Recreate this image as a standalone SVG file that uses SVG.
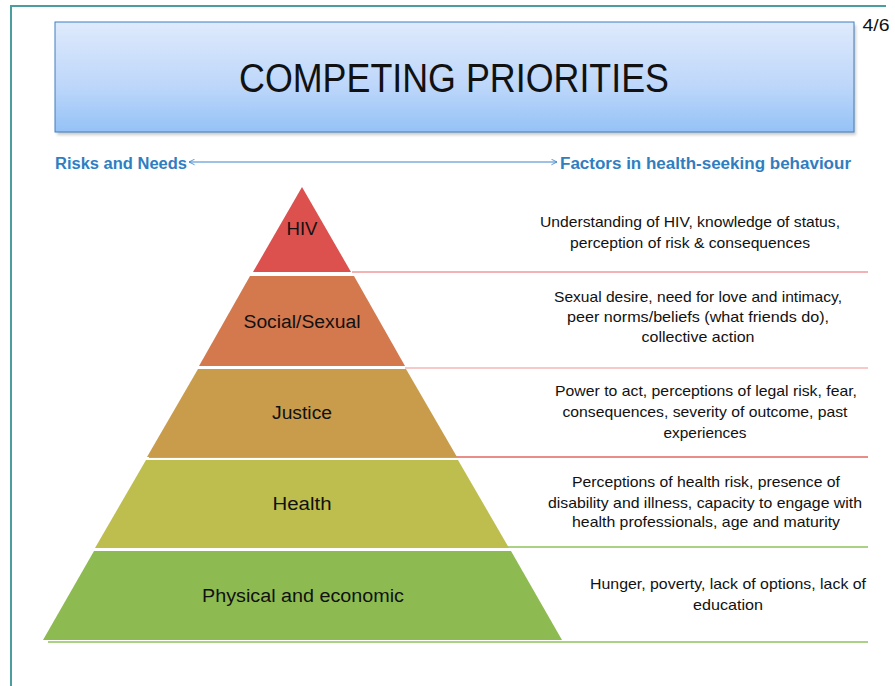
<svg xmlns="http://www.w3.org/2000/svg" width="895" height="686" viewBox="0 0 895 686">
<style>
  .lbl { font-family: "Liberation Sans", Arial, sans-serif; font-size: 18px; fill: #111; text-anchor: middle; }
  .desc { font-family: "Liberation Sans", Arial, sans-serif; font-size: 14.5px; fill: #111; text-anchor: middle; }
  .hdr { font-family: "Liberation Sans", Arial, sans-serif; font-size: 16px; font-weight: bold; fill: #2f7ec1; }
  .div { stroke-width: 1.3; fill: none; }
</style>
<defs>
  <linearGradient id="tg" x1="0" y1="0" x2="0" y2="1">
    <stop offset="0" stop-color="#dfeafc"/>
    <stop offset="0.6" stop-color="#bcd6fa"/>
    <stop offset="1" stop-color="#94c2f6"/>
  </linearGradient>
  <filter id="sh" x="-5%" y="-10%" width="110%" height="130%">
    <feGaussianBlur stdDeviation="1.5"/>
  </filter>
  <marker id="ah" viewBox="0 0 10 10" refX="9" refY="5" markerWidth="7" markerHeight="7" orient="auto-start-reverse" markerUnits="userSpaceOnUse">
    <path d="M1,1 L9,5 L1,9" fill="none" stroke="#3d86cb" stroke-width="1.2"/>
  </marker>
</defs>
<rect width="895" height="686" fill="#fff"/>
<!-- frame -->
<path d="M11,686 V6 H886" fill="none" stroke="#4a9ea0" stroke-width="2"/>
<text x="876" y="31" font-family="Liberation Sans, Arial, sans-serif" font-size="16" fill="#111" text-anchor="middle" textLength="27" lengthAdjust="spacingAndGlyphs">4/6</text>

<g id="title">
  <rect x="57" y="25" width="799" height="110" fill="#999" opacity="0.5" filter="url(#sh)"/>
  <rect x="55" y="22" width="799" height="110" fill="url(#tg)" stroke="#3d7fbf" stroke-width="1"/>
  <text x="454" y="92" font-family="Liberation Sans, Arial, sans-serif" font-size="40" fill="#111" text-anchor="middle" textLength="430" lengthAdjust="spacingAndGlyphs">COMPETING PRIORITIES</text>
</g>

<g id="risks-label"><text class="hdr" x="55" y="169" textLength="132" lengthAdjust="spacingAndGlyphs">Risks and Needs</text></g>
<g id="factors-label"><text class="hdr" x="560" y="169" textLength="291" lengthAdjust="spacingAndGlyphs">Factors in health-seeking behaviour</text></g>

<g id="connectors">
  <line x1="189" y1="162" x2="557" y2="162" stroke="#3d86cb" stroke-width="1.2" marker-start="url(#ah)" marker-end="url(#ah)"/>
  <path class="div" d="M352,272 H868" stroke="#ef9a9a"/>
  <path class="div" d="M405,368 H868" stroke="#f5b9b9"/>
  <path class="div" d="M149,457 H868" stroke="#e0675f"/>
  <path class="div" d="M107,547 H868" stroke="#8fc25c"/>
  <path class="div" d="M48,642 H868" stroke="#8fc25c"/>
</g>

<g id="hiv">
  <polygon points="302,187 351,272 253,272" fill="#dc504e"/>
  <text class="lbl" x="302" y="235" textLength="31" lengthAdjust="spacingAndGlyphs">HIV</text>
  <text class="desc" x="690" y="227" textLength="300" lengthAdjust="spacingAndGlyphs">Understanding of HIV, knowledge of status,</text>
  <text class="desc" x="690" y="248" textLength="240" lengthAdjust="spacingAndGlyphs">perception of risk &amp; consequences</text>
</g>

<g id="social">
  <polygon points="250,276 354,276 405,366 199,366" fill="#d4784e"/>
  <text class="lbl" x="302" y="328" textLength="117" lengthAdjust="spacingAndGlyphs">Social/Sexual</text>
  <text class="desc" x="698" y="302" textLength="288" lengthAdjust="spacingAndGlyphs">Sexual desire, need for love and intimacy,</text>
  <text class="desc" x="698" y="322" textLength="262" lengthAdjust="spacingAndGlyphs">peer norms/beliefs (what friends do),</text>
  <text class="desc" x="698" y="342" textLength="113" lengthAdjust="spacingAndGlyphs">collective action</text>
</g>

<g id="justice">
  <polygon points="198,369 406,369 457,457 147,457" fill="#c99c4c"/>
  <text class="lbl" x="302" y="419" textLength="60" lengthAdjust="spacingAndGlyphs">Justice</text>
  <text class="desc" x="706" y="396" textLength="302" lengthAdjust="spacingAndGlyphs">Power to act, perceptions of legal risk, fear,</text>
  <text class="desc" x="705" y="417" textLength="285" lengthAdjust="spacingAndGlyphs">consequences, severity of outcome, past</text>
  <text class="desc" x="705" y="438" textLength="83" lengthAdjust="spacingAndGlyphs">experiences</text>
</g>

<g id="health">
  <polygon points="146,460 458,460 509,548 95,548" fill="#bdbe4e"/>
  <text class="lbl" x="302" y="510" textLength="59" lengthAdjust="spacingAndGlyphs">Health</text>
  <text class="desc" x="706" y="487" textLength="268" lengthAdjust="spacingAndGlyphs">Perceptions of health risk, presence of</text>
  <text class="desc" x="705" y="508" textLength="314" lengthAdjust="spacingAndGlyphs">disability and illness, capacity to engage with</text>
  <text class="desc" x="706" y="527" textLength="268" lengthAdjust="spacingAndGlyphs">health professionals, age and maturity</text>
</g>

<g id="physical">
  <polygon points="94,551 511,551 562,640 43,640" fill="#8dbb52"/>
  <text class="lbl" x="303" y="602" textLength="202" lengthAdjust="spacingAndGlyphs">Physical and economic</text>
  <text class="desc" x="728" y="589" textLength="276" lengthAdjust="spacingAndGlyphs">Hunger, poverty, lack of options, lack of</text>
  <text class="desc" x="728" y="610" textLength="70" lengthAdjust="spacingAndGlyphs">education</text>
</g>
</svg>
